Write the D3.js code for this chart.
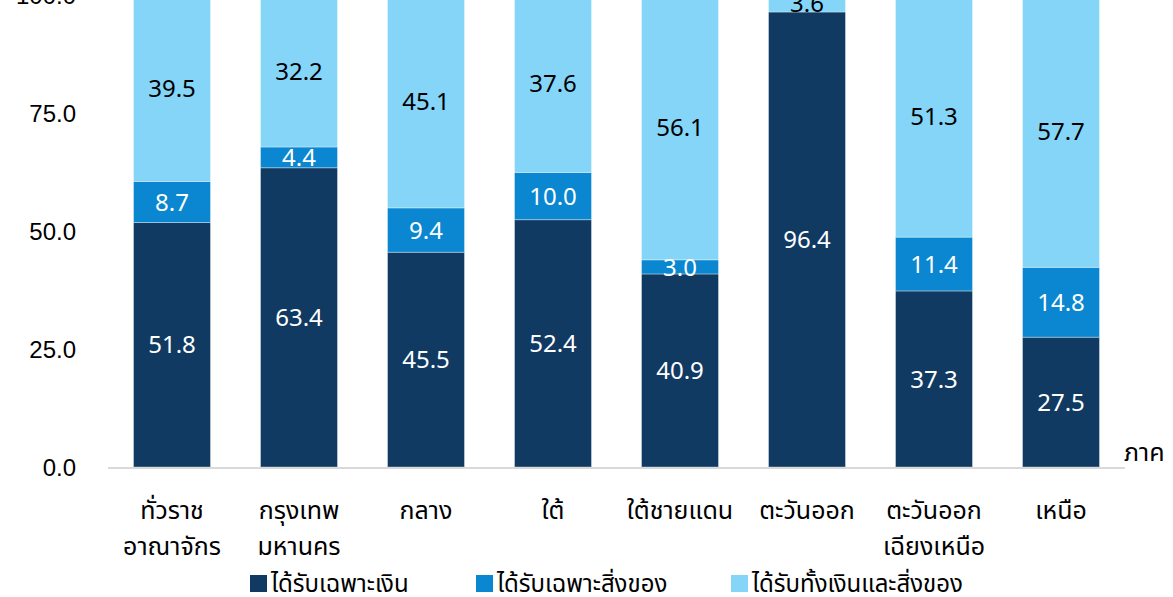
<!DOCTYPE html>
<html><head><meta charset="utf-8">
<script src="https://d3js.org/d3.v7.min.js"></script>
<style>
body{margin:0;background:#fff;}
svg{display:block;font-family:"Noto Sans Thai","Noto Sans",Tahoma,sans-serif;}
</style></head>
<body><svg id="c" width="1173" height="597"></svg>
<script>
const categories = ["ทั่วราชอาณาจักร","กรุงเทพมหานคร","กลาง","ใต้","ใต้ชายแดน","ตะวันออก","ตะวันออกเฉียงเหนือ","เหนือ"];
const categoryLines = [["ทั่วราช","อาณาจักร"],["กรุงเทพ","มหานคร"],["กลาง"],["ใต้"],["ใต้ชายแดน"],["ตะวันออก"],["ตะวันออก","เฉียงเหนือ"],["เหนือ"]];
const seriesNames = ["ได้รับเฉพาะเงิน","ได้รับเฉพาะสิ่งของ","ได้รับทั้งเงินและสิ่งของ"];
const cashOnly = [51.8,63.4,45.5,52.4,40.9,96.4,37.3,27.5];
const goodsOnly = [8.7,4.4,9.4,10.0,3.0,0,11.4,14.8];
const both = [39.5,32.2,45.1,37.6,56.1,3.6,51.3,57.7];
const yTicks = [0,25,50,75,100];
const colors = ["#113a63","#0a87d0","#84d5f8"];
const labelColors = ["#ffffff","#ffffff","#000000"];

const svg = d3.select("#c");
const x = d3.scaleBand().domain(categories).range([108.5,1124.5]).paddingInner(0.394).paddingOuter(0.197);
const y = d3.scaleLinear().domain([0,100]).range([467,-5]);

const stackData = categories.map((c,i)=>({cat:c, s0:cashOnly[i], s1:goodsOnly[i], s2:both[i]}));
const stack = d3.stack().keys(["s0","s1","s2"])(stackData);

stack.forEach((layer,k)=>{
  svg.append("g").selectAll("rect").data(layer).join("rect")
    .attr("x",d=>x(d.data.cat))
    .attr("width",x.bandwidth())
    .attr("y",d=>y(d[1]))
    .attr("height",d=>Math.max(0,y(d[0])-y(d[1])))
    .attr("fill",colors[k])
    .attr("stroke","#ffffff").attr("stroke-opacity",0.35).attr("stroke-width",1);
});

// axis line
svg.append("line").attr("x1",108).attr("x2",1125).attr("y1",y(0)+1).attr("y2",y(0)+1)
  .attr("stroke","#d9d9d9").attr("stroke-width",2);

// data labels
stack.forEach((layer,k)=>{
  svg.append("g").selectAll("text").data(layer.filter(d=>d[1]-d[0]>0)).join("text")
    .attr("x",d=>x(d.data.cat)+x.bandwidth()/2)
    .attr("y",d=>y((d[0]+d[1])/2))
    .attr("dy","0.36em")
    .attr("text-anchor","middle")
    .attr("font-size",24)
    .attr("fill",labelColors[k])
    .text(d=>(d[1]-d[0]).toFixed(1));
});

// y axis labels
const yAxis = d3.axisLeft(y).tickValues(yTicks).tickFormat(d3.format(".1f")).tickSize(0).tickPadding(0);
const ya = svg.append("g").attr("transform","translate(76,0)").call(yAxis);
ya.select(".domain").remove();
ya.selectAll("text").attr("font-size",24).attr("fill","#000").attr("font-family",null).attr("dy","0.36em");

// category labels
const xa = svg.append("g");
categories.forEach((c,i)=>{
  const t = xa.append("text").attr("x",x(c)+x.bandwidth()/2).attr("y",519)
    .attr("text-anchor","middle").attr("font-size",25).attr("fill","#000");
  categoryLines[i].forEach((ln,j)=>{
    t.append("tspan").attr("x",x(c)+x.bandwidth()/2).attr("dy",j===0?0:36).text(ln);
  });
});

// axis title
svg.append("text").attr("x",1124).attr("y",461).attr("font-size",25).attr("fill","#000").text("ภาค");

// legend
const legX = [250,476,731];
seriesNames.forEach((n,i)=>{
  svg.append("rect").attr("x",legX[i]).attr("y",575).attr("width",17).attr("height",17).attr("fill",colors[i]);
  svg.append("text").attr("x",legX[i]+21).attr("y",592).attr("font-size",24).attr("fill","#000").text(n);
});
</script></body></html>
